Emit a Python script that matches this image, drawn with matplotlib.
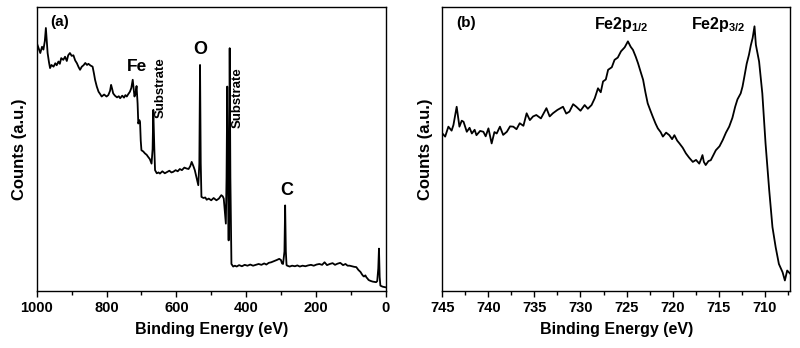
import matplotlib.pyplot as plt
import matplotlib.ticker as mticker

# ============================================================
# DADOS (contagens em unidades arbitrárias 0-100)
# ============================================================

# (a) espectro completo
energia_a = [1000, 995, 990, 985, 981, 977, 974, 971, 969, 965, 962, 958, 952, 947, 943, 938,
             934, 930, 924, 919, 914, 910, 905, 900, 895, 890, 885, 880, 876, 871, 866, 861,
             856, 852, 846, 840, 836, 833, 828, 823, 818, 814, 807, 800, 795, 790, 787, 784,
             781, 776, 770, 765, 761, 755, 750, 746, 742, 738, 733, 729, 725, 722, 720, 717,
             714, 711, 709, 706, 704, 702, 700, 695, 690, 685, 681, 676, 671, 668, 666, 663,
             661, 656, 651, 647, 640, 633, 626, 620, 614, 609, 602, 596, 590, 584, 577, 571,
             565, 560, 556, 551, 547, 542, 537, 534, 532, 530, 528, 522, 517, 513, 507, 500,
             493, 485, 478, 471, 467, 464, 461, 458, 456, 454, 452, 450, 448, 447, 445, 442,
             437, 432, 427, 420, 412, 404, 396, 388, 380, 372, 364, 356, 348, 342, 335, 328,
             320, 312, 305, 300, 297, 294, 290, 288, 286, 284, 282, 275, 268, 260, 253, 246,
             238, 230, 222, 214, 206, 198, 190, 182, 175, 168, 160, 152, 145, 138, 130, 122,
             115, 109, 103, 96, 90, 84, 78, 72, 68, 65, 62, 58, 55, 52, 49, 46, 42, 37, 32,
             27, 24, 21, 19, 17, 15, 12, 8, 4, 0]
contagem_a = [87.3, 85.5, 83.8, 86.0, 85.0, 88.0, 92.6, 87.0, 83.8, 80.5, 78.5, 79.6, 79.0, 80.2, 79.5, 80.8,
              80.0, 82.0, 81.4, 82.5, 81.0, 83.0, 83.8, 82.8, 83.0, 81.2, 80.2, 78.8, 77.9, 79.0, 79.5, 80.3,
              79.6, 80.0, 79.4, 79.0, 76.5, 74.4, 72.0, 70.2, 69.3, 68.5, 69.2, 68.5, 69.0, 70.5, 72.6, 71.2,
              69.6, 68.8, 68.2, 68.6, 67.9, 68.8, 68.1, 69.0, 68.5, 69.3, 70.2, 71.5, 74.4, 71.0, 68.5, 69.5,
              72.2, 66.0, 59.0, 60.2, 59.6, 53.0, 49.6, 49.2, 48.5, 48.0, 47.3, 46.5, 44.9, 50.0, 63.8, 50.0,
              42.6, 41.5, 41.8, 41.4, 42.2, 41.5, 42.0, 42.4, 41.8, 42.0, 42.6, 42.2, 43.0, 42.6, 43.5, 43.2,
              43.0, 44.0, 45.5, 44.0, 42.6, 40.0, 37.3, 45.0, 79.6, 45.0, 33.2, 32.8, 33.0, 32.2, 32.6, 32.0,
              32.8, 32.0, 32.6, 33.8, 33.4, 32.6, 28.0, 23.8, 40.0, 72.0, 40.0, 17.9, 50.0, 85.5, 40.0, 9.6,
              8.7, 9.0, 8.7, 9.2, 8.8, 9.3, 9.0, 9.4, 9.0, 9.3, 9.6, 9.3, 9.8, 9.4, 10.0, 10.2,
              10.6, 11.0, 11.4, 11.0, 9.8, 9.6, 14.0, 30.2, 14.0, 9.2, 9.0, 8.7, 9.0, 8.8, 9.1, 8.7,
              9.0, 8.8, 9.1, 9.3, 9.0, 9.4, 9.6, 9.3, 10.2, 9.2, 9.6, 9.9, 9.3, 9.7, 10.0, 9.2,
              9.6, 9.0, 9.0, 8.8, 8.6, 8.5, 7.5, 6.8, 6.0, 5.5, 5.2, 5.6, 4.9, 4.5, 4.0, 3.8, 3.6, 3.4, 3.3,
              3.2, 3.6, 8.0, 15.0, 5.0, 2.0, 1.8, 1.6, 1.5, 1.4]

# (b) região Fe 2p
energia_b = [745.0, 744.7, 744.35, 744.0, 743.8, 743.45, 743.15, 742.9, 742.7, 742.35, 742.05, 741.8,
             741.5, 741.3, 740.9, 740.55, 740.3, 740.0, 739.65, 739.35, 739.1, 738.75, 738.4, 738.0,
             737.65, 737.3, 736.95, 736.6, 736.2, 735.85, 735.5, 735.15, 734.8, 734.3, 733.7, 733.35,
             733.0, 732.5, 731.9, 731.55, 731.2, 730.8, 730.45, 730.0, 729.55, 729.2, 728.8, 728.45,
             728.1, 727.8, 727.55, 727.25, 727.0, 726.6, 726.3, 725.95, 725.6, 725.2, 724.85, 724.55,
             724.3, 724.0, 723.75, 723.45, 723.2, 722.95, 722.7, 722.4, 722.15, 721.85, 721.6, 721.3,
             721.05, 720.7, 720.35, 720.05, 719.8, 719.5, 719.25, 718.9, 718.55, 718.2, 717.8, 717.45,
             717.1, 716.9, 716.75, 716.6, 716.4, 716.1, 715.85, 715.55, 715.3, 714.9, 714.55, 714.2,
             713.85, 713.5, 713.2, 712.95, 712.6, 712.4, 712.2, 711.95, 711.7, 711.5, 711.3, 711.1,
             710.95, 710.6, 710.25, 709.9, 709.5, 709.15, 708.8, 708.45, 708.05, 707.8, 707.55, 707.2]
contagem_b = [55.5, 54.4, 57.9, 56.5, 58.5, 64.9, 57.9, 60.0, 59.6, 56.1, 57.5, 55.5,
              56.8, 54.9, 56.4, 56.1, 54.5, 57.3, 52.0, 56.0, 55.5, 57.9, 55.0, 56.1,
              58.0, 57.9, 57.0, 59.1, 58.2, 62.6, 60.2, 61.5, 62.0, 60.8, 64.4, 61.5,
              62.6, 63.8, 64.9, 62.5, 63.2, 65.8, 64.9, 63.5, 65.5, 64.2, 65.5, 67.9,
              71.4, 70.0, 73.8, 74.5, 77.9, 78.8, 81.4, 82.2, 84.4, 85.8, 87.9, 86.0,
              84.9, 82.5, 80.2, 77.0, 74.4, 70.0, 66.1, 63.5, 61.4, 59.0, 57.3, 56.0,
              54.4, 55.8, 54.9, 53.5, 54.9, 53.0, 52.0, 50.5, 48.5, 47.0, 45.5, 46.2,
              44.9, 46.5, 47.9, 45.5, 44.4, 45.8, 46.1, 48.0, 49.6, 51.0, 53.2, 55.8,
              57.9, 61.0, 64.9, 67.5, 69.6, 72.0, 75.5, 80.0, 83.2, 86.5, 89.1, 93.2,
              86.7, 80.8, 69.6, 52.0, 35.5, 22.6, 15.5, 9.6, 6.7, 3.8, 7.3, 6.1]

# ============================================================
# ESTILO
# ============================================================

plt.rcParams['font.family'] = ['Liberation Sans', 'DejaVu Sans']
plt.rcParams['font.weight'] = 'bold'
plt.rcParams['mathtext.fontset'] = 'custom'
plt.rcParams['mathtext.rm'] = 'Liberation Sans:bold'
plt.rcParams['mathtext.bf'] = 'Liberation Sans:bold'
plt.rcParams['mathtext.default'] = 'bf'

fig = plt.figure(figsize=(8.0, 3.48), dpi=100)
ax_a = fig.add_axes([0.046, 0.163, 0.436, 0.817])
ax_b = fig.add_axes([0.553, 0.163, 0.435, 0.817])

def formatar(ax):
    for s in ax.spines.values():
        s.set_linewidth(1.0)
    ax.set_yticks([])
    ax.tick_params(axis='x', direction='out', length=4, width=1.0, labelsize=10.5, pad=3)
    ax.tick_params(axis='x', which='minor', direction='out', length=3, width=1.0)
    ax.set_xlabel('Binding Energy (eV)', fontsize=11.5, fontweight='bold', labelpad=5)
    ax.set_ylabel('Counts (a.u.)', fontsize=12, fontweight='bold', labelpad=7)
    for lbl in ax.get_xticklabels():
        lbl.set_fontweight('bold')

# ---- (a) ----
ax_a.plot(energia_a, contagem_a, color='black', linewidth=1.3)
ax_a.set_xlim(1000, 0)
ax_a.set_ylim(0, 100)
ax_a.xaxis.set_major_locator(mticker.MultipleLocator(200))
ax_a.xaxis.set_minor_locator(mticker.MultipleLocator(100))
formatar(ax_a)

ax_a.text(962, 94.6, '(a)', fontsize=11, fontweight='bold', va='center', ha='left')
ax_a.text(714, 79, 'Fe', fontsize=12.5, fontweight='bold', va='center', ha='center')
ax_a.text(530, 85, 'O', fontsize=13, fontweight='bold', va='center', ha='center')
ax_a.text(282, 35.3, 'C', fontsize=13, fontweight='bold', va='center', ha='center')
ax_a.text(645, 71.8, 'Substrate', fontsize=9.5, fontweight='bold', rotation=90,
          va='center', ha='center')
ax_a.text(424, 68.2, 'Substrate', fontsize=9.5, fontweight='bold', rotation=90,
          va='center', ha='center')

# ---- (b) ----
ax_b.plot(energia_b, contagem_b, color='black', linewidth=1.3)
ax_b.set_xlim(745, 707.2)
ax_b.set_ylim(0, 100)
ax_b.xaxis.set_major_locator(mticker.MultipleLocator(5))
ax_b.xaxis.set_minor_locator(mticker.MultipleLocator(2.5))
formatar(ax_b)

ax_b.text(743.5, 94.4, '(b)', fontsize=11, fontweight='bold', va='center', ha='left')
ax_b.text(725.6, 93.8, r'Fe2p$_{1/2}$', fontsize=11.5, fontweight='bold', va='center', ha='center')
ax_b.text(715.0, 93.8, r'Fe2p$_{3/2}$', fontsize=11.5, fontweight='bold', va='center', ha='center')

plt.savefig('out.png', dpi=100)
